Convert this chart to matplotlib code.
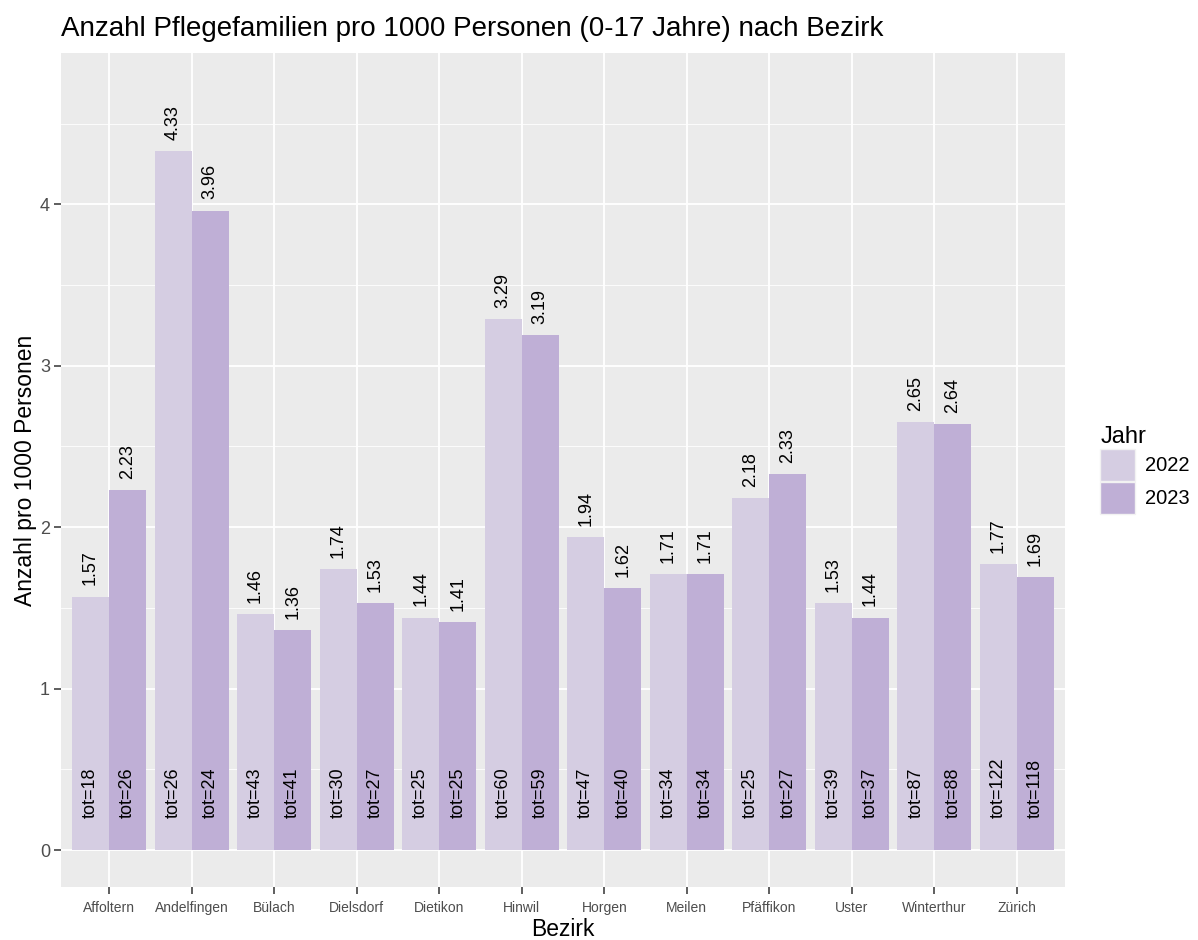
import numpy as np
import matplotlib
matplotlib.use("Agg")
from matplotlib import pyplot as plt
from matplotlib.patches import Patch
from matplotlib.ticker import MultipleLocator

plt.rcParams['font.family'] = ['Liberation Sans', 'DejaVu Sans']

# Daten
bezirke = ["Affoltern", "Andelfingen", "Bülach", "Dielsdorf", "Dietikon", "Hinwil",
           "Horgen", "Meilen", "Pfäffikon", "Uster", "Winterthur", "Zürich"]
werte_2022 = [1.57, 4.33, 1.46, 1.74, 1.44, 3.29, 1.94, 1.71, 2.18, 1.53, 2.65, 1.77]
werte_2023 = [2.23, 3.96, 1.36, 1.53, 1.41, 3.19, 1.62, 1.71, 2.33, 1.44, 2.64, 1.69]
tot_2022 = [18, 26, 43, 30, 25, 60, 47, 34, 25, 39, 87, 122]
tot_2023 = [26, 24, 41, 27, 25, 59, 40, 34, 27, 37, 88, 118]
jahre = ["2022", "2023"]

farben = {"2022": "#d5cde2", "2023": "#bfafd6"}
bar_w = 0.45

fig = plt.figure(figsize=(11.98, 9.4), dpi=100)
# Panel: x 61..1065, y 53..887 (Pixel)
ax = fig.add_axes([61 / 1198, (940 - 887) / 940, (1065 - 61) / 1198, (887 - 53) / 940])
ax.set_facecolor("#ebebeb")

x = np.arange(len(bezirke))
for i, (jahr, werte, tot) in enumerate([("2022", werte_2022, tot_2022),
                                        ("2023", werte_2023, tot_2023)]):
    pos = x + (i - 0.5) * bar_w
    ax.bar(pos, werte, width=bar_w, color=farben[jahr], zorder=3)
    for p, w, t in zip(pos, werte, tot):
        ax.text(p, w + 0.07, f"{w:.2f}", rotation=90, ha="center", va="bottom",
                fontsize=13, color="black", zorder=4)
        ax.text(p, 0.2, f"tot={t}", rotation=90, ha="center", va="bottom",
                fontsize=13, color="black", zorder=4)

ax.set_xlim(-0.583, len(bezirke) - 1 + 0.583)
ax.set_ylim(-0.229, 4.937)
ax.set_xticks(x)
ax.set_xticklabels(bezirke, fontsize=10, color="#4d4d4d", va="baseline")
ax.yaxis.set_major_locator(MultipleLocator(1))
ax.yaxis.set_minor_locator(MultipleLocator(0.5))
ax.tick_params(axis="y", labelsize=13, labelcolor="#4d4d4d", color="#333333",
               length=5, width=1.1, pad=3)
ax.tick_params(axis="x", color="#333333", length=5, width=1.1, pad=13)
ax.tick_params(axis="y", which="minor", length=0)

ax.grid(which="major", color="white", linewidth=1.3, zorder=0)
ax.grid(which="minor", axis="y", color="white", linewidth=0.6, zorder=0)
ax.set_axisbelow(True)
for s in ax.spines.values():
    s.set_visible(False)

ax.set_xlabel("Bezirk", fontsize=16.5, labelpad=2)
ax.set_ylabel("Anzahl pro 1000 Personen", fontsize=16.5, labelpad=2)
ax.set_title("Anzahl Pflegefamilien pro 1000 Personen (0-17 Jahre) nach Bezirk",
             fontsize=20, loc="left", x=0, pad=12)

handles = [Patch(facecolor=farben[j], edgecolor="#f2f2f2", label=j) for j in jahre]
leg = ax.legend(handles=handles, title="Jahr", loc="center left",
                bbox_to_anchor=(1.027, 0.5), frameon=False, fontsize=14.5,
                title_fontsize=17, handlelength=1.75, handleheight=2.05,
                handletextpad=0.5, labelspacing=0.05, borderaxespad=0)
leg._legend_box.align = "left"

fig.savefig("out.png", dpi=100)
